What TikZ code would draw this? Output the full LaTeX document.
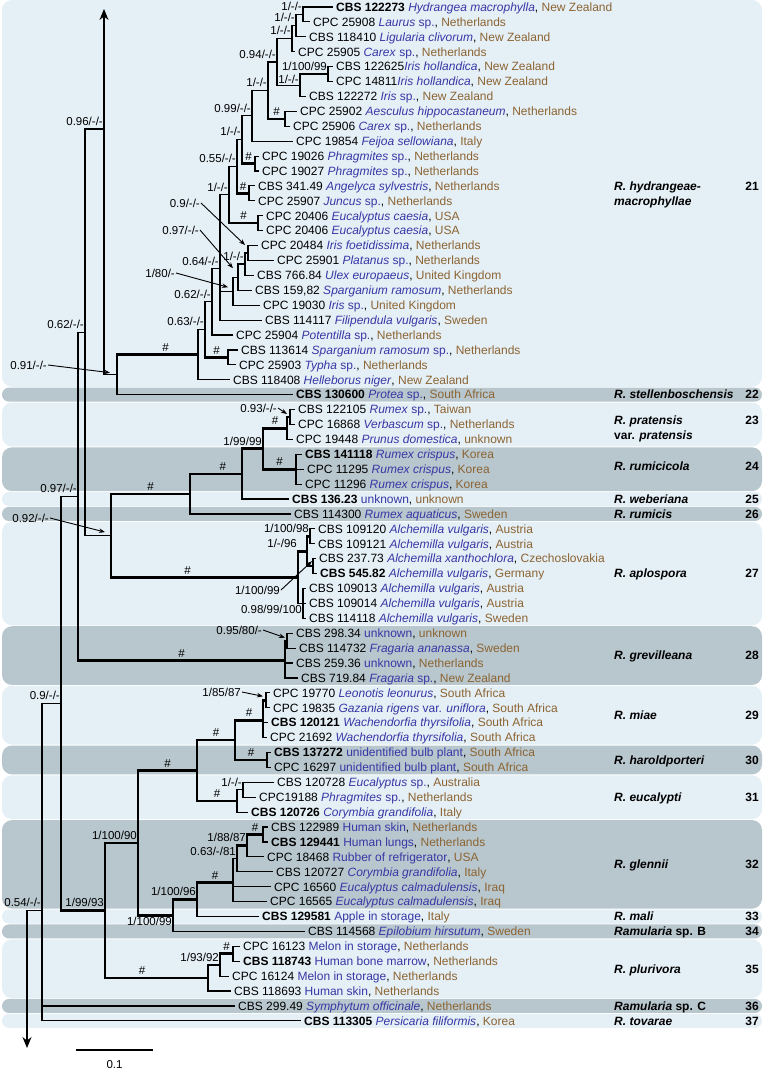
\documentclass[tikz,border=0pt]{standalone}
\usepackage{fontspec}
\setmainfont{Liberation Sans}
\usetikzlibrary{arrows.meta,calc}
\definecolor{bandL}{RGB}{229,239,246}
\definecolor{bandD}{RGB}{184,198,205}
\definecolor{hostc}{RGB}{55,55,165}
\definecolor{ctryc}{RGB}{139,100,50}
\newcommand\HI[1]{\textcolor{hostc}{\textit{#1}}}
\newcommand\HU[1]{\textcolor{hostc}{#1}}
\newcommand\CT[1]{\textcolor{ctryc}{#1}}
\newcommand\ry[1]{(7+14.91*(#1))}
\newcommand\Vx[3]{\draw[br] (#1|-#2) -- (#1|-#3);}
\newcommand\Ex[2]{\draw[br] (#1|-#2) -- (#2);}
\newcommand\Tx[2]{\draw[tk] (#1|-#2) -- (#2);}
\newcommand\Th[3][0.5]{\draw[tk] (#2|-#3) -- node[hashlab,pos=#1]{\#} (#3);}
\newcommand\bandbox[4]{\fill[#1,rounded corners=#4] (2,{\ry{#2}-7}) rectangle (762,{\ry{#3}+7});}
\begin{document}
\begin{tikzpicture}[x=1pt,y=-1pt,
 br/.style={line width=1.15pt,line cap=rect},
 tk/.style={line width=2.6pt,line cap=butt,shorten <=-0.6pt,shorten >=-0.6pt},
 leaf/.style={anchor=west,inner xsep=4pt,inner ysep=0pt,text height=8.6pt,text depth=0pt,font=\fontsize{12}{14}\selectfont},
 sup/.style={anchor=south east,inner sep=1pt,yshift=2.5pt,text height=8.2pt,text depth=0pt,font=\fontsize{11.5}{12}\selectfont},
 alab/.style={anchor=east,inner sep=1pt,text height=8.2pt,text depth=0pt,font=\fontsize{11.5}{12}\selectfont},
 hashlab/.style={above,inner sep=1pt,yshift=1pt,font=\fontsize{11.5}{12}\selectfont},
 spn/.style={anchor=west,inner sep=0pt,text height=8.6pt,text depth=0pt,font=\fontsize{12}{14}\selectfont\bfseries\itshape},
 num/.style={anchor=east,inner sep=0pt,text height=8.6pt,text depth=0pt,font=\fontsize{12}{14}\selectfont\bfseries},
 arr/.style={line width=0.9pt,-{Stealth[length=6pt,width=4.5pt]}},
 bigarr/.style={-{Stealth[length=11pt,width=9pt]}},
 lband/.style={fill=bandL},
 dband/.style={fill=bandD}]
\useasboundingbox (0,0) rectangle (773,1070);
% ---------- bands
\bandbox{lband}{0}{25}{10pt}
\bandbox{dband}{26}{26}{6.9pt}
\bandbox{lband}{27}{29}{10pt}
\bandbox{dband}{30}{32}{10pt}
\bandbox{lband}{33}{33}{6.9pt}
\bandbox{dband}{34}{34}{6.9pt}
\bandbox{lband}{35}{41}{10pt}
\bandbox{dband}{42}{45}{10pt}
\bandbox{lband}{46}{49}{10pt}
\bandbox{dband}{50}{51}{10pt}
\bandbox{lband}{52}{54}{10pt}
\bandbox{dband}{55}{60}{10pt}
\bandbox{lband}{61}{61}{6.9pt}
\bandbox{dband}{62}{62}{6.9pt}
\bandbox{lband}{63}{66}{10pt}
\bandbox{dband}{67}{67}{6.9pt}
\bandbox{lband}{68}{68}{6.9pt}
% ---------- leaves
\node[leaf] (l0) at (332,{\ry{0}}) {\textbf{CBS 122273} \HI{Hydrangea macrophylla}, \CT{New Zealand}};
\node[leaf] (l1) at (309,{\ry{1}}) {CPC 25908 \HI{Laurus} \HU{sp.}, \CT{Netherlands}};
\node[leaf] (l2) at (305,{\ry{2}}) {CBS 118410 \HI{Ligularia clivorum}, \CT{New Zealand}};
\node[leaf] (l3) at (294,{\ry{3}}) {CPC 25905 \HI{Carex} \HU{sp.}, \CT{Netherlands}};
\node[leaf] (l4) at (332,{\ry{4}}) {CBS 122625\HI{Iris hollandica}, \CT{New Zealand}};
\node[leaf] (l5) at (332,{\ry{5}}) {CPC 14811\HI{Iris hollandica}, \CT{New Zealand}};
\node[leaf] (l6) at (305,{\ry{6}}) {CBS 122272 \HI{Iris} \HU{sp.}, \CT{New Zealand}};
\node[leaf] (l7) at (296,{\ry{7}}) {CPC 25902 \HI{Aesculus hippocastaneum}, \CT{Netherlands}};
\node[leaf] (l8) at (289,{\ry{8}}) {CPC 25906 \HI{Carex} \HU{sp.}, \CT{Netherlands}};
\node[leaf] (l9) at (292,{\ry{9}}) {CPC 19854 \HI{Feijoa sellowiana}, \CT{Italy}};
\node[leaf] (l10) at (258,{\ry{10}}) {CPC 19026 \HI{Phragmites} \HU{sp.}, \CT{Netherlands}};
\node[leaf] (l11) at (258,{\ry{11}}) {CPC 19027 \HI{Phragmites} \HU{sp.}, \CT{Netherlands}};
\node[leaf] (l12) at (254,{\ry{12}}) {CBS 341.49 \HI{Angelyca sylvestris}, \CT{Netherlands}};
\node[leaf] (l13) at (254,{\ry{13}}) {CPC 25907 \HI{Juncus} \HU{sp.}, \CT{Netherlands}};
\node[leaf] (l14) at (262,{\ry{14}}) {CPC 20406 \HI{Eucalyptus caesia}, \CT{USA}};
\node[leaf] (l15) at (262,{\ry{15}}) {CPC 20406 \HI{Eucalyptus caesia}, \CT{USA}};
\node[leaf] (l16) at (257,{\ry{16}}) {CPC 20484 \HI{Iris foetidissima}, \CT{Netherlands}};
\node[leaf] (l17) at (273,{\ry{17}}) {CPC 25901 \HI{Platanus} \HU{sp.}, \CT{Netherlands}};
\node[leaf] (l18) at (253,{\ry{18}}) {CBS 766.84 \HI{Ulex europaeus}, \CT{United Kingdom}};
\node[leaf] (l19) at (251,{\ry{19}}) {CBS 159,82 \HI{Sparganium ramosum}, \CT{Netherlands}};
\node[leaf] (l20) at (259,{\ry{20}}) {CPC 19030 \HI{Iris} \HU{sp.}, \CT{United Kingdom}};
\node[leaf] (l21) at (261,{\ry{21}}) {CBS 114117 \HI{Filipendula vulgaris}, \CT{Sweden}};
\node[leaf] (l22) at (232,{\ry{22}}) {CPC 25904 \HI{Potentilla} \HU{sp.}, \CT{Netherlands}};
\node[leaf] (l23) at (237,{\ry{23}}) {CBS 113614 \HI{Sparganium ramosum} \HU{sp.}, \CT{Netherlands}};
\node[leaf] (l24) at (235,{\ry{24}}) {CPC 25903 \HI{Typha} \HU{sp.}, \CT{Netherlands}};
\node[leaf] (l25) at (229,{\ry{25}}) {CBS 118408 \HI{Helleborus niger}, \CT{New Zealand}};
\node[leaf] (l26) at (292,{\ry{26}}) {\textbf{CBS 130600} \HI{Protea} \HU{sp.}, \CT{South Africa}};
\node[leaf] (l27) at (294,{\ry{27}}) {CBS 122105 \HI{Rumex} \HU{sp.}, \CT{Taiwan}};
\node[leaf] (l28) at (294,{\ry{28}}) {CPC 16868 \HI{Verbascum} \HU{sp.}, \CT{Netherlands}};
\node[leaf] (l29) at (292,{\ry{29}}) {CPC 19448 \HI{Prunus domestica}, \CT{unknown}};
\node[leaf] (l30) at (301,{\ry{30}}) {\textbf{CBS 141118} \HI{Rumex crispus}, \CT{Korea}};
\node[leaf] (l31) at (303,{\ry{31}}) {CPC 11295 \HI{Rumex crispus}, \CT{Korea}};
\node[leaf] (l32) at (301,{\ry{32}}) {CPC 11296 \HI{Rumex crispus}, \CT{Korea}};
\node[leaf] (l33) at (288,{\ry{33}}) {\textbf{CBS 136.23} \HU{unknown}, \CT{unknown}};
\node[leaf] (l34) at (290,{\ry{34}}) {CBS 114300 \HI{Rumex aquaticus}, \CT{Sweden}};
\node[leaf] (l35) at (314,{\ry{35}}) {CBS 109120 \HI{Alchemilla vulgaris}, \CT{Austria}};
\node[leaf] (l36) at (314,{\ry{36}}) {CBS 109121 \HI{Alchemilla vulgaris}, \CT{Austria}};
\node[leaf] (l37) at (315,{\ry{37}}) {CBS 237.73 \HI{Alchemilla xanthochlora}, \CT{Czechoslovakia}};
\node[leaf] (l38) at (316,{\ry{38}}) {\textbf{CBS 545.82} \HI{Alchemilla vulgaris}, \CT{Germany}};
\node[leaf] (l39) at (305,{\ry{39}}) {CBS 109013 \HI{Alchemilla vulgaris}, \CT{Austria}};
\node[leaf] (l40) at (305,{\ry{40}}) {CBS 109014 \HI{Alchemilla vulgaris}, \CT{Austria}};
\node[leaf] (l41) at (305,{\ry{41}}) {CBS 114118 \HI{Alchemilla vulgaris}, \CT{Sweden}};
\node[leaf] (l42) at (292,{\ry{42}}) {CBS 298.34 \HU{unknown}, \CT{unknown}};
\node[leaf] (l43) at (295,{\ry{43}}) {CBS 114732 \HI{Fragaria ananassa}, \CT{Sweden}};
\node[leaf] (l44) at (292,{\ry{44}}) {CBS 259.36 \HU{unknown}, \CT{Netherlands}};
\node[leaf] (l45) at (297,{\ry{45}}) {CBS 719.84 \HI{Fragaria} \HU{sp.}, \CT{New Zealand}};
\node[leaf] (l46) at (269,{\ry{46}}) {CPC 19770 \HI{Leonotis leonurus}, \CT{South Africa}};
\node[leaf] (l47) at (269,{\ry{47}}) {CPC 19835 \HI{Gazania rigens} \HU{var.} \HI{uniflora}, \CT{South Africa}};
\node[leaf] (l48) at (267,{\ry{48}}) {\textbf{CBS 120121} \HI{Wachendorfia thyrsifolia}, \CT{South Africa}};
\node[leaf] (l49) at (266,{\ry{49}}) {CPC 21692 \HI{Wachendorfia thyrsifolia}, \CT{South Africa}};
\node[leaf] (l50) at (270,{\ry{50}}) {\textbf{CBS 137272} \HU{unidentified bulb plant}, \CT{South Africa}};
\node[leaf] (l51) at (270,{\ry{51}}) {CPC 16297 \HU{unidentified bulb plant}, \CT{South Africa}};
\node[leaf] (l52) at (273,{\ry{52}}) {CBS 120728 \HI{Eucalyptus} \HU{sp.}, \CT{Australia}};
\node[leaf] (l53) at (255,{\ry{53}}) {CPC19188 \HI{Phragmites} \HU{sp.}, \CT{Netherlands}};
\node[leaf] (l54) at (247,{\ry{54}}) {\textbf{CBS 120726} \HI{Corymbia grandifolia}, \CT{Italy}};
\node[leaf] (l55) at (267,{\ry{55}}) {CBS 122989 \HU{Human skin}, \CT{Netherlands}};
\node[leaf] (l56) at (267,{\ry{56}}) {\textbf{CBS 129441} \HU{Human lungs}, \CT{Netherlands}};
\node[leaf] (l57) at (263,{\ry{57}}) {CPC 18468 \HU{Rubber of refrigerator}, \CT{USA}};
\node[leaf] (l58) at (272,{\ry{58}}) {CBS 120727 \HI{Corymbia grandifolia}, \CT{Italy}};
\node[leaf] (l59) at (270,{\ry{59}}) {CPC 16560 \HI{Eucalyptus calmadulensis}, \CT{Iraq}};
\node[leaf] (l60) at (266,{\ry{60}}) {CPC 16565 \HI{Eucalyptus calmadulensis}, \CT{Iraq}};
\node[leaf] (l61) at (258,{\ry{61}}) {\textbf{CBS 129581} \HU{Apple in storage}, \CT{Italy}};
\node[leaf] (l62) at (304,{\ry{62}}) {CBS 114568 \HI{Epilobium hirsutum}, \CT{Sweden}};
\node[leaf] (l63) at (239,{\ry{63}}) {CPC 16123 \HU{Melon in storage}, \CT{Netherlands}};
\node[leaf] (l64) at (239,{\ry{64}}) {\textbf{CBS 118743} \HU{Human bone marrow}, \CT{Netherlands}};
\node[leaf] (l65) at (228,{\ry{65}}) {CPC 16124 \HU{Melon in storage}, \CT{Netherlands}};
\node[leaf] (l66) at (230,{\ry{66}}) {CBS 118693 \HU{Human skin}, \CT{Netherlands}};
\node[leaf] (l67) at (234,{\ry{67}}) {CBS 299.49 \HI{Symphytum officinale}, \CT{Netherlands}};
\node[leaf] (l68) at (300,{\ry{68}}) {\textbf{CBS 113305} \HI{Persicaria filiformis}, \CT{Korea}};
% ---------- internal nodes (row index; polytomies at mean of children)
\coordinate (A1) at (303,{\ry{0.5}});
\coordinate (A2) at (296,{\ry{1.25}});
\coordinate (A3) at (292,{\ry{2.125}});
\coordinate (I1) at (328,{\ry{4.5}});
\coordinate (A5) at (300,{\ry{5.25}});
\coordinate (A4) at (277,{\ry{3.6875}});
\coordinate (P2) at (285,{\ry{7.5}});
\coordinate (A6) at (268,{\ry{5.59375}});
\coordinate (A7) at (252,{\ry{7.296875}});
\coordinate (P3) at (255,{\ry{10.5}});
\coordinate (A8) at (242,{\ry{8.8984375}});
\coordinate (P4) at (249,{\ry{12.5}});
\coordinate (A9) at (237,{\ry{10.69921875}});
\coordinate (P5) at (258,{\ry{14.5}});
\coordinate (A10) at (229,{\ry{12.599609}});
\coordinate (T1) at (248,{\ry{16.5}});
\coordinate (T2) at (245,{\ry{17.25}});
\coordinate (T3) at (238,{\ry{18.125}});
\coordinate (T4) at (233,{\ry{19.0625}});
\coordinate (X3) at (220,{\ry{17.554}});
\coordinate (X2) at (212,{\ry{19.777}});
\coordinate (P6) at (228,{\ry{23.5}});
\coordinate (X1) at (205,{\ry{21.6385}});
\coordinate (H0) at (198,{\ry{23.3193}});
\coordinate (N091) at (117,{\ry{24.6596}});
\coordinate (N096) at (104,129);
\coordinate (topend) at (104,9);
\coordinate (K1) at (290,{\ry{27.5}});
\coordinate (K2) at (287,{\ry{28.25}});
\coordinate (K3) at (296,{\ry{31}});
\coordinate (K4) at (263,{\ry{29.625}});
\coordinate (K5) at (242,{\ry{31.3125}});
\coordinate (K6) at (190,{\ry{32.65625}});
\coordinate (L1) at (310,{\ry{35.5}});
\coordinate (L2) at (313,{\ry{37.5}});
\coordinate (L3) at (307,{\ry{36.5}});
\coordinate (L5) at (303,{\ry{40}});
\coordinate (L4) at (298,{\ry{38.25}});
\coordinate (N092) at (111,{\ry{35.453125}});
\coordinate (N062) at (85,{\ry{21.818}});
\coordinate (G1) at (287,{\ry{42.5}});
\coordinate (G) at (285,{\ry{43.8333}});
\coordinate (N097) at (78,{\ry{32.826}});
\coordinate (M0) at (266,{\ry{46.5}});
\coordinate (M1) at (263,{\ry{47.8333}});
\coordinate (Hh) at (267,{\ry{50.5}});
\coordinate (MH) at (235,{\ry{49.1667}});
\coordinate (E1) at (243,{\ry{52.5}});
\coordinate (E) at (237,{\ry{53.25}});
\coordinate (ME) at (197,{\ry{51.2083}});
\coordinate (GN4) at (263,{\ry{55.5}});
\coordinate (GN3) at (247,{\ry{56.25}});
\coordinate (GN2) at (237,{\ry{57.125}});
\coordinate (GN1) at (233,{\ry{58.7083}});
\coordinate (GM) at (197,{\ry{59.8542}});
\coordinate (GL) at (173,{\ry{60.9271}});
\coordinate (G90) at (138,{\ry{56.0677}});
\coordinate (PL2) at (233,{\ry{63.5}});
\coordinate (PL1) at (220,{\ry{64.25}});
\coordinate (PL) at (208,{\ry{65.125}});
\coordinate (N19993) at (105,{\ry{60.5964}});
\coordinate (N09) at (61,{\ry{46.7112}});
\coordinate (N054) at (42,{\ry{60.5704}});
\coordinate (root) at (27,{\ry{60.5704}});
\coordinate (botend) at (27,1048);
% ---------- branches: clade 21
\Vx{A1}{l0}{l1} \Ex{A1}{l0} \Ex{A1}{l1}
\Vx{A2}{A1}{l2} \Ex{A2}{A1} \Ex{A2}{l2}
\Vx{A3}{A2}{l3} \Ex{A3}{A2} \Ex{A3}{l3}
\Vx{I1}{l4}{l5} \Ex{I1}{l4} \Ex{I1}{l5}
\Vx{A5}{I1}{l6} \Tx{A5}{I1} \Ex{A5}{l6}
\Vx{A4}{A3}{A5} \Ex{A4}{A3} \Ex{A4}{A5}
\Vx{P2}{l7}{l8} \Ex{P2}{l7} \Ex{P2}{l8}
\Vx{A6}{A4}{P2} \Ex{A6}{A4} \Th{A6}{P2}
\Vx{A7}{A6}{l9} \Ex{A7}{A6} \Ex{A7}{l9}
\Vx{P3}{l10}{l11} \Ex{P3}{l10} \Ex{P3}{l11}
\Vx{A8}{A7}{P3} \Ex{A8}{A7} \Th{A8}{P3}
\Vx{P4}{l12}{l13} \Ex{P4}{l12} \Ex{P4}{l13}
\Vx{A9}{A8}{P4} \Ex{A9}{A8} \Th{A9}{P4}
\Vx{P5}{l14}{l15} \Ex{P5}{l14} \Ex{P5}{l15}
\Vx{A10}{A9}{P5} \Ex{A10}{A9} \Th{A10}{P5}
\Vx{T1}{l16}{l17} \Ex{T1}{l16} \Ex{T1}{l17}
\Vx{T2}{T1}{l18} \Ex{T2}{T1} \Ex{T2}{l18}
\Vx{T3}{T2}{l19} \Tx{T3}{T2} \Ex{T3}{l19}
\Vx{T4}{T3}{l20} \Ex{T4}{T3} \Ex{T4}{l20}
\Vx{X3}{A10}{l21} \Ex{X3}{A10} \Ex{X3}{T4} \Ex{X3}{l21}
\Vx{X2}{X3}{l22} \Ex{X2}{X3} \Ex{X2}{l22}
\Vx{P6}{l23}{l24} \Ex{P6}{l23} \Ex{P6}{l24}
\Vx{X1}{X2}{P6} \Ex{X1}{X2} \Th{X1}{P6}
\Vx{H0}{X1}{l25} \Ex{H0}{X1} \Ex{H0}{l25}
\Vx{N091}{H0}{l26} \Th[0.6]{N091}{H0} \Ex{N091}{l26}
\draw[br,bigarr] (N096|-N091) -- (topend);
\Ex{N096}{N091}
% ---------- rumex / aplospora / grevilleana
\Vx{K1}{l27}{l28} \Ex{K1}{l27} \Ex{K1}{l28}
\Vx{K2}{K1}{l29} \Ex{K2}{K1} \Ex{K2}{l29}
\Vx{K3}{l30}{l32} \Ex{K3}{l30} \Ex{K3}{l31} \Ex{K3}{l32}
\Vx{K4}{K2}{K3} \Th{K4}{K2} \Th{K4}{K3}
\Vx{K5}{K4}{l33} \Tx{K5}{K4} \Ex{K5}{l33}
\Vx{K6}{K5}{l34} \Th[0.63]{K6}{K5} \Ex{K6}{l34}
\Vx{L1}{l35}{l36} \Ex{L1}{l35} \Ex{L1}{l36}
\Vx{L2}{l37}{l38} \Ex{L2}{l37} \Ex{L2}{l38}
\Vx{L3}{L1}{L2} \Tx{L3}{L1} \Tx{L3}{L2}
\Vx{L5}{l39}{l41} \Ex{L5}{l39} \Ex{L5}{l40} \Ex{L5}{l41}
\Vx{L4}{L3}{L5} \Tx{L4}{L3} \Ex{L4}{L5}
\Vx{N092}{K6}{L4} \Th{N092}{K6} \Th[0.41]{N092}{L4}
\Vx{N062}{N096}{N092} \Ex{N062}{N096} \Ex{N062}{N092}
\Vx{G1}{l42}{l43} \Ex{G1}{l42} \Ex{G1}{l43}
\Vx{G}{G1}{l45} \Ex{G}{G1} \Ex{G}{l44} \Ex{G}{l45}
\Vx{N097}{N062}{G} \Ex{N097}{N062} \Th{N097}{G}
% ---------- lower clades
\Vx{M0}{l46}{l47} \Ex{M0}{l46} \Ex{M0}{l47}
\Vx{M1}{M0}{l49} \Tx{M1}{M0} \Ex{M1}{l48} \Ex{M1}{l49}
\Vx{Hh}{l50}{l51} \Ex{Hh}{l50} \Ex{Hh}{l51}
\Vx{MH}{M1}{Hh} \Th{MH}{M1} \Th{MH}{Hh}
\Vx{E1}{l52}{l53} \Ex{E1}{l52} \Ex{E1}{l53}
\Vx{E}{E1}{l54} \Ex{E}{E1} \Ex{E}{l54}
\Vx{ME}{MH}{E} \Th{ME}{MH} \Th{ME}{E}
\Vx{GN4}{l55}{l56} \Ex{GN4}{l55} \Ex{GN4}{l56}
\Vx{GN3}{GN4}{l57} \Th{GN3}{GN4} \Ex{GN3}{l57}
\Vx{GN2}{GN3}{l58} \Tx{GN2}{GN3} \Ex{GN2}{l58}
\Vx{GN1}{GN2}{l60} \Ex{GN1}{GN2} \Ex{GN1}{l59} \Ex{GN1}{l60}
\Vx{GM}{GN1}{l61} \Th{GM}{GN1} \Ex{GM}{l61}
\Vx{GL}{GM}{l62} \Tx{GL}{GM} \Ex{GL}{l62}
\Vx{G90}{ME}{GL} \Th{G90}{ME} \Tx{G90}{GL}
\Vx{PL2}{l63}{l64} \Ex{PL2}{l63} \Ex{PL2}{l64}
\Vx{PL1}{PL2}{l65} \Th{PL1}{PL2} \Ex{PL1}{l65}
\Vx{PL}{PL1}{l66} \Tx{PL}{PL1} \Ex{PL}{l66}
\Vx{N19993}{G90}{PL} \Tx{N19993}{G90} \Th[0.36]{N19993}{PL}
\Vx{N09}{N097}{N19993} \Ex{N09}{N097} \Tx{N09}{N19993}
\Vx{N054}{N09}{l68} \Ex{N054}{N09} \Ex{N054}{l67} \Ex{N054}{l68}
\draw[br] (N054) -- (root);
\draw[br,bigarr] (root) -- (botend);
% ---------- support values
\node[sup] (sA1) at (A1) {1/-/-};
\node[sup] (sA2) at (A2) {1/-/-};
\node[sup] (sA3) at (A3) {1/-/-};
\node[sup] (sA4) at (A4) {0.94/-/-};
\node[sup,yshift=-2pt] (sA5) at (A5) {1/-/-};
\node[sup] (sI1) at (I1) {1/100/99};
\node[sup] (sA6) at (A6) {1/-/-};
\node[sup] (sA7) at (A7) {0.99/-/-};
\node[sup] (sA8) at (A8) {1/-/-};
\node[sup] (sA9) at (A9) {0.55/-/-};
\node[sup] (sA10) at (A10) {1/-/-};
\node[sup] (sT2) at (T2) {1/-/-};
\node[sup] (sX3) at (X3) {0.64/-/-};
\node[sup] (sX2) at (X2) {0.62/-/-};
\node[sup] (sX1) at (X1) {0.63/-/-};
\node[sup] (sN096) at (N096) {0.96/-/-};
\node[sup] (sN062) at (N062) {0.62/-/-};
\node[sup] (sN097) at (N097) {0.97/-/-};
\node[sup] (sN09) at (N09) {0.9/-/-};
\node[sup] (sN054) at (N054) {0.54/-/-};
\node[sup] (sK4) at (K4) {1/99/99};
\node[sup] (sL1) at (L1) {1/100/98};
\node[sup] (sL3) at (L4|-L3) {1/-/96};
\node[sup,anchor=north east,yshift=-3pt] (sL5) at (L5) {0.98/99/100};
\node[sup] (sE1) at (E1) {1/-/-};
\node[sup] (sGN3) at (GN3) {1/88/87};
\node[sup] (sGN2) at (GN2) {0.63/-/81};
\node[sup] (sGM) at (GM) {1/100/96};
\node[sup,anchor=north east,yshift=-3pt] (sGL) at (GL) {1/100/99};
\node[sup] (sG90) at (G90) {1/100/90};
\node[sup] (sN19993) at (N19993) {1/99/93};
\node[sup] (sPL1) at (PL1) {1/93/92};
% ---------- arrowed support values
\node[alab] (a09) at (201,203) {0.9/-/-};
\draw[arr] (a09.east) -- ($(T1)+(-3,-8)$);
\node[alab] (a097) at (200,230) {0.97/-/-};
\draw[arr] (a097.east) -- ($(T3)+(-5,-9)$);
\node[alab] (a180) at (176,273) {1/80/-};
\draw[arr] (a180.east) -- ($(T4)+(-5,-4)$);
\node[alab] (a091) at (48,365) {0.91/-/-};
\draw[arr] (a091.east) -- ($(N091)+(-7,-2)$);
\node[alab] (a092) at (50,518) {0.92/-/-};
\draw[arr] (a092.east) -- ($(N092)+(-6,-3.5)$);
\node[alab] (a093) at (278,408) {0.93/-/-};
\draw[arr] (a093.east) -- ($(K1)+(-3,-3)$);
\node[alab] (a10099) at (281,590) {1/100/99};
\draw[arr] (a10099.east) -- ($(L2)+(-1,-5)$);
\node[alab] (a095) at (263,630) {0.95/80/-};
\draw[arr] (a095.east) -- ($(G1)+(-2,-3)$);
\node[alab] (a185) at (242,692) {1/85/87};
\draw[arr] (a185.east) -- ($(M0)+(-3,-4)$);
% ---------- species names and numbers
\node[spn] (s21a) at (614,{\ry{12}}) {R. hydrangeae-};
\node[spn] (s21b) at (614,{\ry{13}}) {macrophyllae};
\node[num] (n21) at (759,{\ry{12}}) {21};
\node[spn] (s22) at (614,{\ry{26}}) {R. stellenboschensis};
\node[num] (n22) at (759,{\ry{26}}) {22};
\node[spn] (s23a) at (614,420) {R. pratensis};
\node[spn] (s23b) at (614,435) {{\upshape var.} pratensis};
\node[num] (n23) at (759,420) {23};
\node[spn] (s24) at (614,{\ry{30.8}}) {R. rumicicola};
\node[num] (n24) at (759,{\ry{30.8}}) {24};
\node[spn] (s25) at (614,{\ry{33}}) {R. weberiana};
\node[num] (n25) at (759,{\ry{33}}) {25};
\node[spn] (s26) at (614,{\ry{34}}) {R. rumicis};
\node[num] (n26) at (759,{\ry{34}}) {26};
\node[spn] (s27) at (614,{\ry{38}}) {R. aplospora};
\node[num] (n27) at (759,{\ry{38}}) {27};
\node[spn] (s28) at (614,{\ry{43.5}}) {R. grevilleana};
\node[num] (n28) at (759,{\ry{43.5}}) {28};
\node[spn] (s29) at (614,{\ry{47.5}}) {R. miae};
\node[num] (n29) at (759,{\ry{47.5}}) {29};
\node[spn] (s30) at (614,{\ry{50.5}}) {R. haroldporteri};
\node[num] (n30) at (759,{\ry{50.5}}) {30};
\node[spn] (s31) at (614,{\ry{53}}) {R. eucalypti};
\node[num] (n31) at (759,{\ry{53}}) {31};
\node[spn] (s32) at (614,{\ry{57.5}}) {R. glennii};
\node[num] (n32) at (759,{\ry{57.5}}) {32};
\node[spn] (s33) at (614,{\ry{61}}) {R. mali};
\node[num] (n33) at (759,{\ry{61}}) {33};
\node[spn] (s34) at (614,{\ry{62}}) {Ramularia {\upshape sp. B}};
\node[num] (n34) at (759,{\ry{62}}) {34};
\node[spn] (s35) at (614,{\ry{64.5}}) {R. plurivora};
\node[num] (n35) at (759,{\ry{64.5}}) {35};
\node[spn] (s36) at (614,{\ry{67}}) {Ramularia {\upshape sp. C}};
\node[num] (n36) at (759,{\ry{67}}) {36};
\node[spn] (s37) at (614,{\ry{68}}) {R. tovarae};
\node[num] (n37) at (759,{\ry{68}}) {37};
% ---------- scale bar
\coordinate (sb1) at (76,1050);
\coordinate (sb2) at (153,1050);
\draw[line width=1.15pt] (sb1) -- (sb2);
\node[alab,anchor=center] (sbl) at (114.5,1064) {0.1};
\end{tikzpicture}
\end{document}
